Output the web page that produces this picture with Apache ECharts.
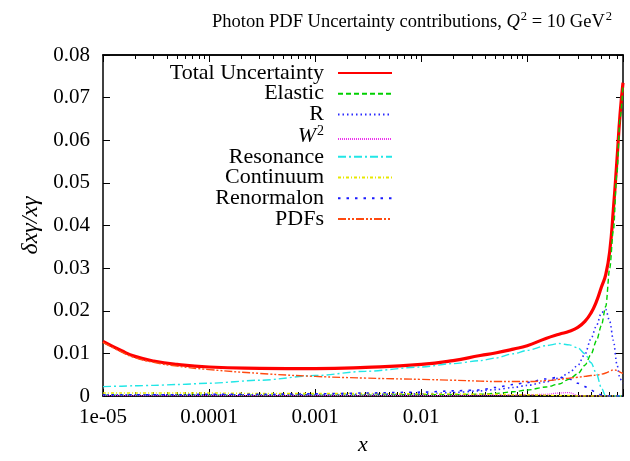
<!DOCTYPE html>
<html><head><meta charset="utf-8">
<script src="https://cdn.jsdelivr.net/npm/echarts@6/dist/echarts.min.js"></script>
<style>html,body{margin:0;padding:0;background:#fff}#c{width:630px;height:461px}</style>
</head><body><div id="c"></div>
<script>
// ---- data ----
const xValues    = [1e-5, 1.5e-5, 2e-5, 3e-5, 5e-5, 1e-4, 3e-4, 1e-3, 3e-3, 0.01, 0.02, 0.036, 0.05, 0.074, 0.1, 0.15, 0.2, 0.25, 0.3, 0.35, 0.4, 0.45, 0.5, 0.55, 0.6, 0.65, 0.7, 0.75, 0.8];
const totalUnc   = [0.0128, 0.0106, 0.0093, 0.0082, 0.0074, 0.0068, 0.0065, 0.0064, 0.0067, 0.0074, 0.0083, 0.0095, 0.0101, 0.0110, 0.0118, 0.0135, 0.0145, 0.0152, 0.0161, 0.0175, 0.0195, 0.0222, 0.0255, 0.0285, 0.0340, 0.0440, 0.0550, 0.0660, 0.0735];
const elastic    = [0.0002, 0.0002, 0.0002, 0.0002, 0.0002, 0.0002, 0.0002, 0.0002, 0.0002, 0.0003, 0.0003, 0.0004, 0.0006, 0.0010, 0.0014, 0.0021, 0.0028, 0.0040, 0.0052, 0.0072, 0.0098, 0.0130, 0.0165, 0.0210, 0.0300, 0.0390, 0.0520, 0.0650, 0.0730];
const rUnc       = [0.0003, 0.0003, 0.0003, 0.0003, 0.0003, 0.0003, 0.0003, 0.0003, 0.0004, 0.0005, 0.0008, 0.0012, 0.0015, 0.0020, 0.0025, 0.0033, 0.0042, 0.0055, 0.0072, 0.0098, 0.0135, 0.0165, 0.0195, 0.0203, 0.0175, 0.0130, 0.0075, 0.0040, 0.0030];
const w2Unc      = [0.0001, 0.0001, 0.0001, 0.0001, 0.0001, 0.0001, 0.0001, 0.0001, 0.0001, 0.0001, 0.0001, 0.0002, 0.0002, 0.0002, 0.0003, 0.0004, 0.0007, 0.0008, 0.0001, 0, 0, 0, 0, 0, 0, 0, 0, 0, 0];
const resonance  = [0.0022, 0.0023, 0.0024, 0.0025, 0.0027, 0.0030, 0.0037, 0.0048, 0.0058, 0.0068, 0.0076, 0.0083, 0.0089, 0.0099, 0.0107, 0.0118, 0.0123, 0.0120, 0.0113, 0.0099, 0.0078, 0.0052, 0.0019, 0, 0, 0, 0, 0, 0];
const continuum  = [0.0007, 0.0007, 0.0007, 0.0007, 0.0007, 0.0007, 0.0006, 0.0006, 0.0006, 0.0005, 0.0005, 0.0004, 0.0004, 0.0003, 0.0003, 0.0002, 0.0001, 0.0001, 0, 0, 0, 0, 0, 0, 0, 0, 0, 0, 0];
const renormalon = [0.0003, 0.0003, 0.0003, 0.0003, 0.0003, 0.0004, 0.0004, 0.0005, 0.0007, 0.0009, 0.0012, 0.0014, 0.0020, 0.0027, 0.0032, 0.0040, 0.0044, 0.0040, 0.0030, 0.0022, 0.0014, 0.0008, 0.0002, 0, 0, 0, 0, 0, 0];
const pdfUnc     = [0.0126, 0.0103, 0.0090, 0.0079, 0.0070, 0.0062, 0.0053, 0.0046, 0.0042, 0.0039, 0.0037, 0.0035, 0.0034, 0.0034, 0.0034, 0.0036, 0.0039, 0.0042, 0.0044, 0.0046, 0.0048, 0.0049, 0.0051, 0.0054, 0.0058, 0.0061, 0.0060, 0.0056, 0.0053];

const seriesNames = ['Total Uncertainty', 'Elastic', 'R', 'W2', 'Resonance', 'Continuum', 'Renormalon', 'PDFs'];
const xTickValues = [1e-5, 1e-4, 1e-3, 0.01, 0.1];
const xTickLabels = ['1e-05', '0.0001', '0.001', '0.01', '0.1'];
const xMinorTicks = [2e-5,3e-5,4e-5,5e-5,6e-5,7e-5,8e-5,9e-5, 2e-4,3e-4,4e-4,5e-4,6e-4,7e-4,8e-4,9e-4, 2e-3,3e-3,4e-3,5e-3,6e-3,7e-3,8e-3,9e-3, 0.02,0.03,0.04,0.05,0.06,0.07,0.08,0.09, 0.2,0.3,0.4,0.5,0.6,0.7];

// ---- chart ----
const FONT = 'Liberation Serif';
const pair = ys => xValues.map((x, i) => [x, ys[i]]);
const styles = [
  {data: totalUnc,   color: '#ff0000', width: 3.2, type: 'solid', smooth: 0.5, mono: null},
  {data: elastic,    color: '#00d000', width: 1.4, type: [5, 3], smooth: 0.3, mono: 'x'},
  {data: rUnc,       color: '#2a2aff', width: 1.6, type: [1.5, 3], smooth: 0.3, mono: 'x'},
  {data: w2Unc,      color: '#ee33ee', width: 1.2, type: [1, 1], smooth: 0.3, mono: 'x'},
  {data: resonance,  color: '#22e6e6', width: 1.4, type: [8, 3, 2, 3], smooth: 0.3, mono: 'x'},
  {data: continuum,  color: '#e8e800', width: 1.4, type: [3, 2, 1, 2], smooth: 0.3, mono: 'x'},
  {data: renormalon, color: '#1a1aff', width: 1.6, type: [2.5, 6], smooth: 0.3, mono: 'x'},
  {data: pdfUnc,     color: '#ff4a10', width: 1.4, type: [8, 2, 2, 2, 2, 2], smooth: 0.5, mono: null}
];

function xLabel(v) {
  const i = xTickValues.findIndex(t => Math.abs(Math.log10(t) - Math.log10(v)) < 1e-6);
  return i >= 0 ? xTickLabels[i] : '';
}

const baseX = {
  type: 'log', logBase: 10, min: 1e-5, max: 0.8, gridIndex: 0,
  splitLine: {show: false}, minorTick: {show: false},
  axisLine: {show: true, onZero: false, lineStyle: {color: '#000', width: 1.5}}
};
const baseY = {
  type: 'value', min: 0, max: 0.08, interval: 0.01,
  splitLine: {show: false},
  axisLine: {show: true, onZero: false, lineStyle: {color: '#000', width: 1.5}}
};
const tick = len => ({show: true, inside: true, length: len, lineStyle: {color: '#000', width: 1}});

const chart = echarts.init(document.getElementById('c'), null, {renderer: 'canvas'});
chart.setOption({
  backgroundColor: '#fff',
  animation: false,
  title: {
    left: 207, top: 5,
    text: '{n|Photon PDF Uncertainty contributions, }{i|Q}{s|2}{n| = 10 GeV}{s|2}',
    textStyle: {
      fontWeight: 'normal',
      rich: {
        n: {fontFamily: FONT, fontSize: 18.5, fontWeight: 'normal', color: '#000', lineHeight: 22, verticalAlign: 'bottom'},
        i: {fontFamily: FONT, fontSize: 18.5, fontWeight: 'normal', fontStyle: 'italic', color: '#000', lineHeight: 22, verticalAlign: 'bottom'},
        s: {fontFamily: FONT, fontSize: 12.5, fontWeight: 'normal', color: '#000', lineHeight: 12, verticalAlign: 'bottom', padding: [0, 0, 9, 1]}
      }
    }
  },
  grid: {left: 103, right: 7, top: 55, bottom: 60, containLabel: false},
  legend: {
    right: 237, top: 62, padding: 0, orient: 'vertical', align: 'right',
    itemWidth: 54, itemHeight: 14, itemGap: -1.3,
    itemStyle: {opacity: 0},
    data: seriesNames,
    formatter: n => n === 'W2' ? '{i|W}{s|2}' : n,
    textStyle: {
      fontFamily: FONT, fontSize: 22, color: '#000', lineHeight: 16, padding: [0, 9, 0, 0],
      rich: {
        i: {fontFamily: FONT, fontSize: 22, fontStyle: 'italic', color: '#000', lineHeight: 16, verticalAlign: 'bottom'},
        s: {fontFamily: FONT, fontSize: 14, color: '#000', lineHeight: 10, verticalAlign: 'bottom', padding: [0, 0, 9, 1]}
      }
    }
  },
  xAxis: [
    Object.assign({}, baseX, {
      position: 'bottom', axisTick: tick(7),
      axisLabel: {show: true, formatter: xLabel, fontFamily: FONT, fontSize: 21, color: '#000', margin: 11},
      name: 'x', nameLocation: 'middle', nameGap: 38,
      nameTextStyle: {fontFamily: FONT, fontSize: 22, fontStyle: 'italic', color: '#000'}
    }),
    Object.assign({}, baseX, {position: 'top', axisTick: tick(7), axisLabel: {show: false}}),
    Object.assign({}, baseX, {position: 'bottom', axisTick: Object.assign(tick(4), {customValues: xMinorTicks}), axisLabel: {show: false}}),
    Object.assign({}, baseX, {position: 'top', axisTick: Object.assign(tick(4), {customValues: xMinorTicks}), axisLabel: {show: false}})
  ],
  yAxis: [
    Object.assign({}, baseY, {
      position: 'left', axisTick: tick(7),
      axisLabel: {show: true, fontFamily: FONT, fontSize: 21, color: '#000', margin: 13},
      name: 'δxγ/xγ', nameLocation: 'middle', nameGap: 58, nameRotate: 90,
      nameTextStyle: {fontFamily: FONT, fontSize: 24, fontStyle: 'italic', color: '#000'}
    }),
    Object.assign({}, baseY, {position: 'right', axisTick: tick(7), axisLabel: {show: false}})
  ],
  series: seriesNames.map((name, i) => ({
    name: name, type: 'line', xAxisIndex: 0, yAxisIndex: 0,
    data: pair(styles[i].data),
    showSymbol: false, symbol: 'none', smooth: styles[i].smooth, smoothMonotone: styles[i].mono,
    clip: true, z: 2,
    itemStyle: {color: styles[i].color},
    lineStyle: {color: styles[i].color, width: styles[i].width, type: styles[i].type}
  }))
});
</script>
</body></html>
